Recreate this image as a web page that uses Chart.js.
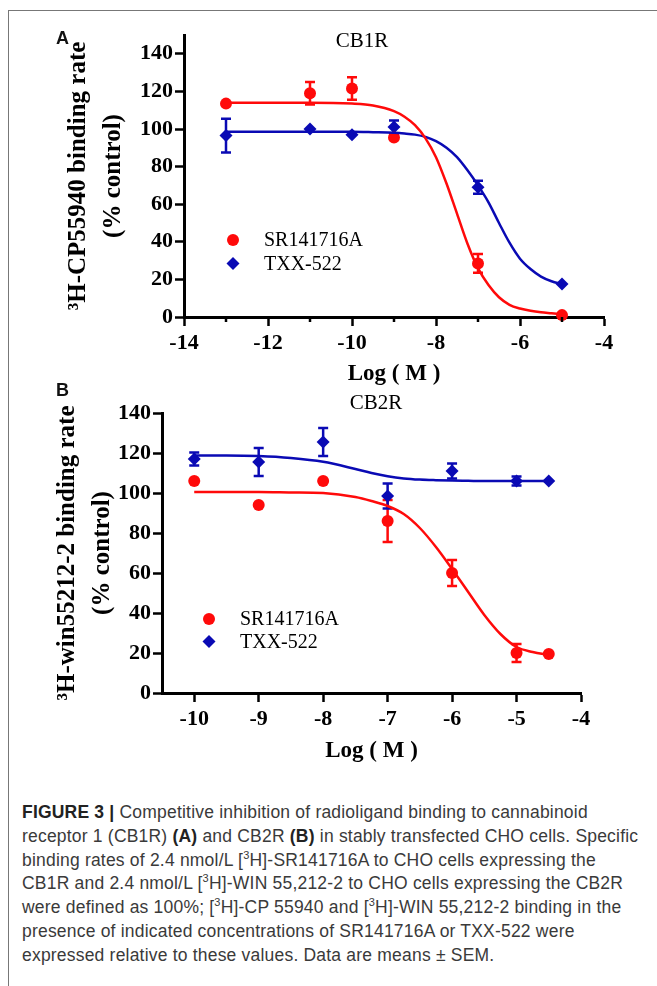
<!DOCTYPE html>
<html>
<head>
<meta charset="utf-8">
<script src="https://cdn.jsdelivr.net/npm/chart.js@4.4.0/dist/chart.umd.min.js"></script>
<style>
  html, body { margin: 0; padding: 0; background: #fff; }
  #page { position: relative; width: 657px; height: 986px; overflow: hidden; }
  #frame { position: absolute; left: 8px; top: 10px; width: 700px; height: 1000px;
           border-top: 1px solid #777; border-left: 1px solid #777; }
  canvas { position: absolute; left: 0; }
  #cvA { top: 0; }
  #cvB { top: 392px; }
  .lbl { position: absolute; font-family: 'Liberation Sans', Arial, sans-serif; font-weight: bold;
         font-size: 18px; line-height: 18px; color: #111; }
  .ttl { position: absolute; font-family: 'Liberation Serif', 'Times New Roman', serif;
         font-size: 21px; line-height: 21px; color: #000; transform: translateX(-50%); white-space: nowrap; }
  #caption { position: absolute; left: 22px; top: 801px; width: 640px;
             font-family: 'Liberation Sans', Arial, sans-serif; font-size: 17.5px; line-height: 23.8px;
             letter-spacing: 0.2px; color: #3a3a3a; white-space: nowrap; }
  #caption b { color: #222; }
  #caption sup { font-size: 11px; line-height: 0; vertical-align: 7px; }
</style>
</head>
<body>
<div id="page">
  <div id="frame"></div>
  <canvas id="cvA" width="657" height="392"></canvas>
  <canvas id="cvB" width="657" height="376"></canvas>
  <div class="lbl" style="left:56px; top:29px;">A</div>
  <div class="lbl" style="left:56px; top:381px;">B</div>
  <div class="ttl" style="left:362px; top:30px;">CB1R</div>
  <div class="ttl" style="left:376px; top:392px;">CB2R</div>
  <div id="caption">
    <b>FIGURE 3 |</b> Competitive inhibition of radioligand binding to cannabinoid<br>
    receptor 1 (CB1R) <b>(A)</b> and CB2R <b>(B)</b> in stably transfected CHO cells. Specific<br>
    binding rates of 2.4 nmol/L [<sup>3</sup>H]-SR141716A to CHO cells expressing the<br>
    CB1R and 2.4 nmol/L [<sup>3</sup>H]-WIN 55,212-2 to CHO cells expressing the CB2R<br>
    were defined as 100%; [<sup>3</sup>H]-CP 55940 and [<sup>3</sup>H]-WIN 55,212-2 binding in the<br>
    presence of indicated concentrations of SR141716A or TXX-522 were<br>
    expressed relative to these values. Data are means &plusmn; SEM.
  </div>
</div>

<script>
// ── Data ──

var legendLabels = ['SR141716A', 'TXX-522'];

// Panel A — CB1R
var xA        = [-13, -11, -10, -9, -7, -5];
var srA       = [113.5, 119, 121.5, 95.5, 28.5, 1];
var srErrA    = [0, 6, 6, 0, 5, 0];
var txA       = [96.5, 100, 97, 101, 69, 17.5];
var txErrA    = [9, 0, 0, 3.5, 3.5, 0];
var fitXA     = [-13, -12, -11, -10, -9.5, -9, -8.75, -8.5, -8.25, -8, -7.75, -7.5, -7.25, -7, -6.75, -6.5, -6.25, -6, -5.75, -5.5, -5.25, -5];
var srFitA    = [114, 114, 114, 113.5, 112.5, 109.5, 106.5, 102, 95, 85, 71, 55, 39, 26, 17, 10.5, 6.5, 4.5, 3.3, 2.5, 2, 1.5];
var txFitA    = [98.5, 98.5, 98.5, 98.5, 98.3, 98, 97.6, 97, 95.8, 93.5, 90, 85, 78, 70, 61, 50, 39.5, 31, 25.5, 21.5, 19, 17.5];
var xTicksA   = [-14, -12, -10, -8, -6, -4];
var xMinorA   = [-13, -11, -9, -7, -5];
var yTicksA   = [0, 20, 40, 60, 80, 100, 120, 140];

// Panel B — CB2R
var xB        = [-10, -9, -8, -7, -6, -5, -4.5];
var srB       = [106, 94, 106, 86, 60, 20, 19.5];
var srErrB    = [0, 0, 0, 10.5, 6.5, 4.5, 0];
var txB       = [117, 115.5, 125.5, 98.5, 111, 106, 106];
var txErrB    = [3.3, 7, 7, 6.3, 3.8, 2.2, 0];
var fitXB     = [-10, -9.5, -9, -8.5, -8, -7.5, -7.25, -7, -6.75, -6.5, -6.25, -6, -5.75, -5.5, -5.25, -5, -4.75, -4.5];
var srFitB    = [100.5, 100.5, 100.5, 100.3, 100, 98, 96, 93.5, 89.5, 82.5, 73, 62, 50.5, 39, 29.5, 23, 20.5, 19];
var txFitB    = [118.8, 118.8, 118.5, 117.5, 115.6, 112, 110, 108.4, 107.3, 106.7, 106.4, 106.2, 106.1, 106, 106, 106, 106, 106];
var xTicksB   = [-10, -9, -8, -7, -6, -5, -4];
var yTicksB   = [0, 20, 40, 60, 80, 100, 120, 140];

var RED  = '#ff0a0a';
var BLUE = '#0a0ab4';

// ── Plugins ──

var errorBarPlugin = {
  id: 'errorBars',
  beforeDatasetsDraw: function(chart) {
    var ctx = chart.ctx, ys = chart.scales.y;
    chart.data.datasets.forEach(function(ds, i) {
      if (!ds.errorBars) return;
      var meta = chart.getDatasetMeta(i);
      meta.data.forEach(function(pt, j) {
        var e = ds.errorBars[j];
        if (!e) return;
        var v = ds.data[j].y;
        var top = ys.getPixelForValue(v + e), bot = ys.getPixelForValue(v - e);
        ctx.save();
        ctx.strokeStyle = ds.backgroundColor;
        ctx.lineWidth = 2.5;
        ctx.beginPath();
        ctx.moveTo(pt.x, top); ctx.lineTo(pt.x, bot);
        ctx.moveTo(pt.x - 5, top); ctx.lineTo(pt.x + 5, top);
        ctx.moveTo(pt.x - 5, bot); ctx.lineTo(pt.x + 5, bot);
        ctx.stroke();
        ctx.restore();
      });
    });
  }
};

var minorTickPlugin = {
  id: 'minorTicks',
  afterDraw: function(chart, args, opts) {
    if (!opts.values) return;
    var ctx = chart.ctx, xs = chart.scales.x, y0 = chart.chartArea.bottom;
    ctx.save();
    ctx.strokeStyle = '#000';
    ctx.lineWidth = 2.5;
    opts.values.forEach(function(v) {
      var px = xs.getPixelForValue(v);
      ctx.beginPath(); ctx.moveTo(px, y0); ctx.lineTo(px, y0 + opts.length); ctx.stroke();
    });
    ctx.restore();
  }
};

var inlineLegendPlugin = {
  id: 'inlineLegend',
  afterDraw: function(chart, args, opts) {
    var ctx = chart.ctx;
    ctx.save();
    ctx.font = '20px "Liberation Serif", "Times New Roman", serif';
    ctx.textBaseline = 'middle';
    opts.items.forEach(function(it, k) {
      var y = opts.y + k * opts.dy;
      ctx.fillStyle = it.color;
      ctx.beginPath();
      if (it.style === 'circle') {
        ctx.arc(opts.x, y, 6, 0, Math.PI * 2);
      } else {
        ctx.moveTo(opts.x - 6.5, y); ctx.lineTo(opts.x, y - 6.5);
        ctx.lineTo(opts.x + 6.5, y); ctx.lineTo(opts.x, y + 6.5);
        ctx.closePath();
      }
      ctx.fill();
      ctx.fillStyle = '#000';
      ctx.fillText(it.text, opts.textX, y + 1);
    });
    ctx.restore();
  }
};

// ── Helpers ──

function _pts(xs, ys) {
  return xs.map(function(x, i) { return { x: x, y: ys[i] }; });
}

function _tickSetter(values) {
  return function(scale) {
    scale.ticks = values.map(function(v) { return { value: v }; });
  };
}

function makePanel(id, p) {
  var serifBold = { family: '"Liberation Serif", "Times New Roman", serif', weight: 'bold' };
  return new Chart(document.getElementById(id), {
    type: 'scatter',
    data: {
      datasets: [
        { data: _pts(p.fitX, p.srFit), showLine: true, borderColor: RED, borderWidth: 2.5,
          pointRadius: 0, cubicInterpolationMode: 'monotone', clip: false },
        { data: _pts(p.fitX, p.txFit), showLine: true, borderColor: BLUE, borderWidth: 2.5,
          pointRadius: 0, cubicInterpolationMode: 'monotone', clip: false },
        { label: legendLabels[0], data: _pts(p.x, p.sr), errorBars: p.srErr, backgroundColor: RED,
          pointStyle: 'circle', pointRadius: 6, borderWidth: 0, clip: false },
        { label: legendLabels[1], data: _pts(p.x, p.tx), errorBars: p.txErr, backgroundColor: BLUE,
          pointStyle: 'rectRot', pointRadius: 6.5, borderWidth: 0, clip: false }
      ]
    },
    options: {
      responsive: false,
      animation: false,
      events: [],
      devicePixelRatio: 1,
      layout: { padding: p.pad },
      plugins: {
        legend: { display: false },
        tooltip: { enabled: false },
        minorTicks: { values: p.minor, length: 5 },
        inlineLegend: {
          x: p.legend.x, y: p.legend.y, dy: p.legend.dy, textX: p.legend.textX,
          items: [
            { text: legendLabels[0], color: RED, style: 'circle' },
            { text: legendLabels[1], color: BLUE, style: 'diamond' }
          ]
        }
      },
      scales: {
        x: {
          type: 'linear', min: p.xMin, max: p.xMax,
          afterBuildTicks: _tickSetter(p.xTicks),
          afterFit: function(s) { s.height = p.xAxisH; },
          border: { color: '#000', width: 3 },
          grid: { drawOnChartArea: false, tickLength: 9, tickWidth: 2.5, tickColor: '#000' },
          ticks: { color: '#000', padding: 4, font: Object.assign({ size: 22 }, serifBold),
                   callback: function(v) { return String(v); } },
          title: { display: true, text: 'Log ( M )', color: '#000', padding: { top: 0, bottom: 0 },
                   font: Object.assign({ size: 23, lineHeight: 1.2 }, serifBold) }
        },
        y: {
          min: 0, max: p.yMax,
          afterBuildTicks: _tickSetter(p.yTicks),
          afterFit: function(s) { s.width = p.yAxisW; },
          border: { color: '#000', width: 3 },
          grid: { drawOnChartArea: false, tickLength: 9, tickWidth: 2.5, tickColor: '#000' },
          ticks: { color: '#000', padding: 2, font: Object.assign({ size: 22 }, serifBold),
                   callback: function(v) { return String(v); } },
          title: { display: true, text: p.yTitle, color: '#000', padding: { top: p.yTitlePad, bottom: 0 },
                   font: Object.assign({ size: 25, lineHeight: 1.4 }, serifBold) }
        }
      }
    },
    plugins: [errorBarPlugin, minorTickPlugin, inlineLegendPlugin]
  });
}

makePanel('cvA', {
  x: xA, sr: srA, srErr: srErrA, tx: txA, txErr: txErrA,
  fitX: fitXA, srFit: srFitA, txFit: txFitA,
  xMin: -14, xMax: -4, yMax: 150, xTicks: xTicksA, yTicks: yTicksA, minor: xMinorA,
  pad: { top: 35, left: 0, right: 53, bottom: 4 }, xAxisH: 71, yAxisW: 184,
  yTitle: ['\u00b3H-CP55940 binding rate', '(% control)'], yTitlePad: 61.5,
  legend: { x: 233, y: 240, dy: 23.5, textX: 264 }
});

makePanel('cvB', {
  x: xB, sr: srB, srErr: srErrB, tx: txB, txErr: txErrB,
  fitX: fitXB, srFit: srFitB, txFit: txFitB,
  xMin: -10.5, xMax: -4, yMax: 140, xTicks: xTicksB, yTicks: yTicksB, minor: null,
  pad: { top: 21, left: 0, right: 76, bottom: 3 }, xAxisH: 72, yAxisW: 162,
  yTitle: ['\u00b3H-win55212-2 binding rate', '(% control)'], yTitlePad: 50.5,
  legend: { x: 209, y: 227, dy: 22.5, textX: 240 }
});
</script>
</body>
</html>
